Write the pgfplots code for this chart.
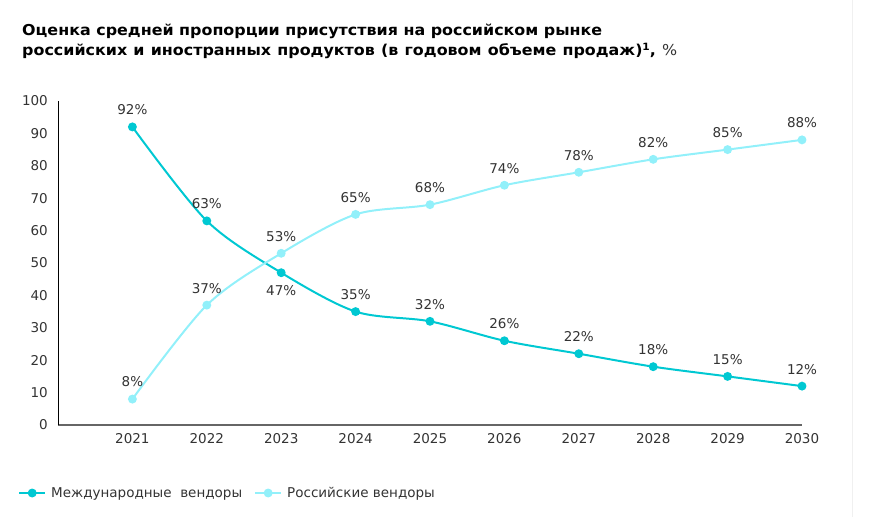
\documentclass[border=0pt]{standalone}
\usepackage{fontspec}
\setmainfont{DejaVu Sans}
\newfontfamily\titlefont[FakeStretch=1.06]{DejaVu Sans Bold}
\newfontfamily\titlereg[FakeStretch=1.06]{DejaVu Sans}
\usepackage{pgfplots}
\usepackage{pgfplotstable}
\pgfplotsset{compat=1.18}
\definecolor{intl}{HTML}{00C8D2}
\definecolor{rus}{HTML}{92F0FA}
\definecolor{txt}{HTML}{333333}

\pgfplotstableread{
x y off
2021 92 17
2022 63 17
2023 47 -18
2024 35 17
2025 32 17
2026 26 17
2027 22 17
2028 18 17
2029 15 17
2030 12 17
}\intltab

\pgfplotstableread{
x y off
2021 8 17
2022 37 17
2023 53 17
2024 65 17
2025 68 17
2026 74 17
2027 78 17
2028 82 17
2029 85 17
2030 88 17
}\rustab

\begin{document}
\begin{tikzpicture}[x=1pt,y=1pt]
\begin{axis}[
  scale only axis, width=744pt, height=324pt,
  at={(0,0)}, anchor=south west,
  xmin=2020, xmax=2030, ymin=0, ymax=100,
  axis lines*=left,
  xtick={2021,2022,2023,2024,2025,2026,2027,2028,2029,2030},
  xticklabels={2021,2022,2023,2024,2025,2026,2027,2028,2029,2030},
  ytick={0,10,...,100},
  /pgf/number format/assume math mode=true,
  major tick length=0pt,
  tick label style={font=\fontsize{13.5}{15}\selectfont, text=txt, inner sep=0pt},
  xticklabel style={anchor=center, yshift=-14pt},
  yticklabel style={anchor=east, xshift=-10pt},
  x axis line style={draw=black!60, line width=1.5pt},
  y axis line style={draw=black, line width=0.7pt},
  clip=false,
  nodes near coords={\pgfmathprintnumber{\pgfplotspointmeta}\%},
  visualization depends on={\thisrow{off} \as \lbloff},
  every node near coord/.append style={anchor=center, yshift=\lbloff pt, font=\fontsize{13.5}{15}\selectfont, text=txt, inner sep=0pt},
  legend columns=2,
  legend style={at={(axis description cs:-0.05376,-0.2099)}, anchor=west, draw=none, fill=none,
    font=\fontsize{13.5}{15}\selectfont, text=txt, inner sep=0pt,
    /tikz/every odd column/.append style={column sep=3pt},
    /tikz/every even column/.append style={column sep=10pt}},
  legend cell align=left,
  legend image code/.code={\draw[mark repeat=2,mark phase=2] plot coordinates {(0pt,0pt)(13pt,0pt)(26pt,0pt)};},
]
\addplot[intl, line width=2pt, smooth, mark=*, mark size=3.4pt, mark options={solid, fill=intl, draw=intl}] table[x=x, y=y, meta=y] {\intltab};
\addlegendentry{Международные\ \ вендоры}
\addplot[rus, line width=2pt, smooth, mark=*, mark size=3.4pt, mark options={solid, fill=rus, draw=rus}] table[x=x, y=y, meta=y] {\rustab};
\addlegendentry{Российские вендоры}
\end{axis}
\node[anchor=base west, font=\titlefont\fontsize{15}{17}\selectfont, inner sep=0pt] at (-36,389) {Оценка средней пропорции присутствия на российском рынке};
\node[anchor=base west, font=\titlefont\fontsize{15}{17}\selectfont, inner sep=0pt] at (-36,369) {\spaceskip=6.2pt plus 1pt российских и иностранных продуктов (в годовом объеме продаж)\raisebox{5pt}{\fontsize{10}{10}\selectfont 1}, {\titlereg\color{txt}\%}};
\draw[black!6, line width=1pt] (794,-92) -- (794,425);
\pgfresetboundingbox
\path[use as bounding box] (-58,-92) rectangle (834,425);
\end{tikzpicture}
\end{document}
